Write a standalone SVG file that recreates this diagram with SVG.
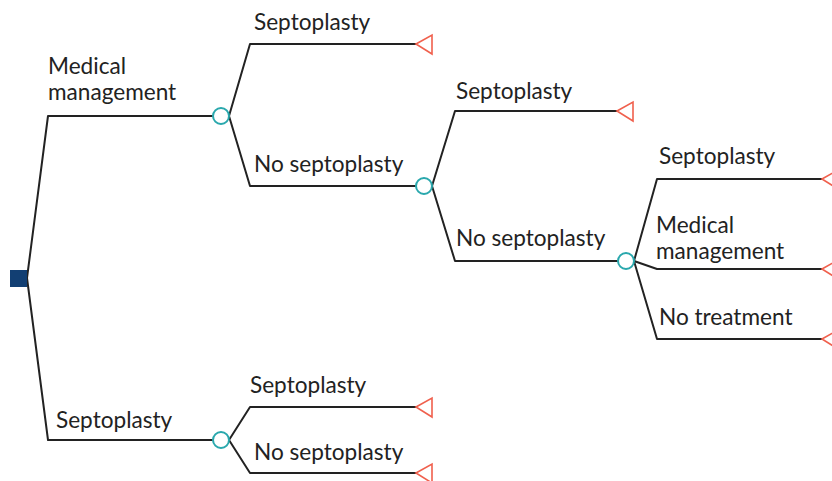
<svg xmlns="http://www.w3.org/2000/svg" width="832" height="481" viewBox="0 0 832 481">
<style>
.l{fill:none;stroke:#222;stroke-width:2;stroke-linejoin:round}
.c{fill:#fff;stroke:#2aa8ad;stroke-width:2}
.t{fill:#fff;stroke:#f0604d;stroke-width:1.6;stroke-linejoin:miter}
text{font-family:Lato,"Open Sans","Liberation Sans",sans-serif;font-size:22.6px;fill:#222}
</style>
<rect width="832" height="481" fill="#fff"/>
<g id="connectors">
<path class="l" d="M27,278 L48,116 H213"/>
<path class="l" d="M27,278 L48,440 H213"/>
<path class="l" d="M229,116 L250,44 H416"/>
<path class="l" d="M229,116 L250,186 H416"/>
<path class="l" d="M229,440 L250,407 H416"/>
<path class="l" d="M229,440 L250,473 H416"/>
<path class="l" d="M432,186 L455,111 H617"/>
<path class="l" d="M432,186 L455,261 H618"/>
<path class="l" d="M634,261 L657,179 H822"/>
<path class="l" d="M634,261 L657,269 H822"/>
<path class="l" d="M634,261 L657,339 H822"/>
</g>
<g id="root"><rect x="10" y="270" width="17" height="17" fill="#123f73"/></g>
<g id="c1"><circle class="c" cx="221" cy="116" r="8"/></g>
<g id="c2"><circle class="c" cx="424" cy="186" r="8"/></g>
<g id="c3"><circle class="c" cx="626" cy="261" r="8"/></g>
<g id="c4"><circle class="c" cx="221" cy="440" r="8"/></g>
<g id="t1"><polygon class="t" points="416,44 432,35 432,54"/></g>
<g id="t2"><polygon class="t" points="617,111 633,102 633,121"/></g>
<g id="t3"><polygon class="t" points="822,179 838,170 838,189"/></g>
<g id="t4"><polygon class="t" points="822,269 838,260 838,279"/></g>
<g id="t5"><polygon class="t" points="822,339 838,330 838,349"/></g>
<g id="t6"><polygon class="t" points="416,407 432,398 432,417"/></g>
<g id="t7"><polygon class="t" points="416,473 432,464 432,483"/></g>
<g id="labels">
<text x="48" y="74">Medical</text>
<text x="48" y="100">management</text>
<text x="56" y="428">Septoplasty</text>
<text x="254" y="30">Septoplasty</text>
<text x="254" y="172">No septoplasty</text>
<text x="250" y="393">Septoplasty</text>
<text x="254" y="460">No septoplasty</text>
<text x="456" y="99">Septoplasty</text>
<text x="456" y="246">No septoplasty</text>
<text x="659" y="164">Septoplasty</text>
<text x="656" y="233">Medical</text>
<text x="656" y="259">management</text>
<text x="659" y="325">No treatment</text>
</g>
</svg>
